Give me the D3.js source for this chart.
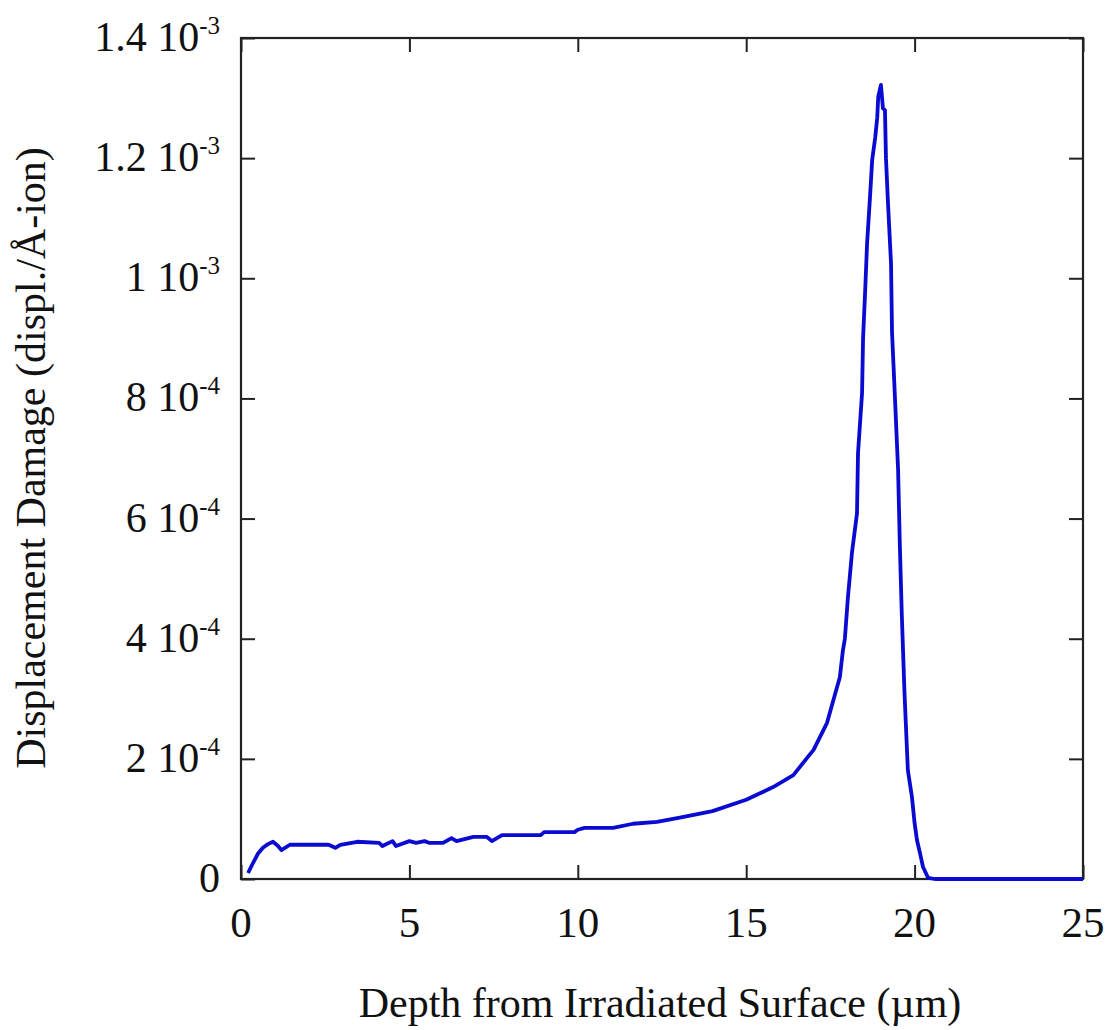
<!DOCTYPE html>
<html>
<head>
<meta charset="utf-8">
<script src="https://cdn.jsdelivr.net/npm/d3@7"></script>
<style>
  body { margin: 0; background: #fff; }
  svg text { font-family: "Liberation Serif", "Times New Roman", serif; fill: #111; }
</style>
</head>
<body>
<div id="chart"></div>
<script>
// depth in µm, damage in units of 1e-4 displ./Å-ion
const depth = [0.21,0.36,0.5,0.65,0.8,0.95,1.1,1.2,1.45,2.0,2.6,2.8,2.95,3.45,4.1,4.2,4.5,4.6,5.0,5.2,5.45,5.6,6.0,6.25,6.4,6.9,7.3,7.45,7.75,8.9,9.0,9.9,10.0,10.2,11.05,11.64,12.35,13.03,14.0,15.0,15.8,16.4,17.0,17.4,17.6,17.78,17.87,17.93,18.02,18.14,18.29,18.32,18.44,18.47,18.53,18.59,18.68,18.74,18.83,18.89,18.92,19.0,19.06,19.12,19.15,19.21,19.3,19.33,19.42,19.51,19.56,19.62,19.7,19.8,19.92,20.0,20.07,20.16,20.25,20.4,20.6,25]
const damage = [0.1,0.27,0.42,0.52,0.58,0.62,0.55,0.48,0.57,0.57,0.57,0.52,0.57,0.62,0.6,0.55,0.63,0.55,0.63,0.6,0.63,0.6,0.6,0.68,0.63,0.7,0.7,0.63,0.73,0.73,0.78,0.78,0.82,0.85,0.85,0.92,0.95,1.02,1.13,1.32,1.53,1.73,2.15,2.6,3.0,3.36,3.8,4.0,4.69,5.43,6.09,7.09,8.09,9.0,9.76,10.59,11.39,11.97,12.34,12.67,13.02,13.22,12.83,12.8,12.0,11.25,10.25,9.1,7.97,6.81,5.6,4.4,3.1,1.81,1.37,0.93,0.65,0.43,0.2,0.02,0,0]

const xTicks = [0, 5, 10, 15, 20, 25]
const yTicks = [0, 2, 4, 6, 8, 10, 12, 14]
const yTickMantissa = ["0", "2", "4", "6", "8", "1", "1.2", "1.4"]
const yTickExponent = ["", "-4", "-4", "-4", "-4", "-3", "-3", "-3"]

const xTitle = "Depth from Irradiated Surface (µm)"
const yTitle = "Displacement Damage (displ./Å-ion)"

const W = 1109, H = 1030
const margin = {top: 38, right: 26, bottom: 151, left: 241}
const width = W - margin.left - margin.right
const height = H - margin.top - margin.bottom

const svg = d3.select("#chart").append("svg")
    .attr("width", W)
    .attr("height", H)
const g = svg.append("g")
    .attr("transform", "translate(" + margin.left + "," + margin.top + ")")

const x = d3.scaleLinear().domain([0, 25]).range([0, width])
const y = d3.scaleLinear().domain([0, 14]).range([height, 0])

const tickLen = 14

// inward ticks on all four sides
g.append("g")
    .attr("transform", "translate(0," + height + ")")
    .call(d3.axisTop(x).tickValues(xTicks).tickSize(tickLen).tickFormat(""))
g.append("g")
    .call(d3.axisBottom(x).tickValues(xTicks).tickSize(tickLen).tickFormat(""))
g.append("g")
    .call(d3.axisRight(y).tickValues(yTicks).tickSize(tickLen).tickFormat(""))
g.append("g")
    .attr("transform", "translate(" + width + ",0)")
    .call(d3.axisLeft(y).tickValues(yTicks).tickSize(tickLen).tickFormat(""))
g.selectAll(".domain").remove()
g.selectAll(".tick line").attr("stroke", "#222").attr("stroke-width", 2)

g.append("rect")
    .attr("width", width)
    .attr("height", height)
    .attr("fill", "none")
    .attr("stroke", "#222")
    .attr("stroke-width", 2.2)

// x tick labels
g.selectAll(".xlab")
  .data(xTicks)
  .enter().append("text")
    .attr("x", d => x(d))
    .attr("y", height + 58)
    .attr("text-anchor", "middle")
    .attr("font-size", 43)
    .text(d => d)

// y tick labels with superscript exponent
const yl = g.selectAll(".ylab")
  .data(yTicks)
  .enter().append("text")
    .attr("x", -21)
    .attr("y", d => y(d) + 13)
    .attr("text-anchor", "end")
    .attr("font-size", 42)
yl.append("tspan").text((d, i) => yTickMantissa[i] + (yTickExponent[i] ? " 10" : ""))
yl.append("tspan")
    .attr("dy", -17)
    .attr("font-size", 25)
    .text((d, i) => yTickExponent[i])

g.append("path")
    .datum(depth.map((d, i) => [d, damage[i]]))
    .attr("fill", "none")
    .attr("stroke", "#0a0ad0")
    .attr("stroke-width", 3.8)
    .attr("stroke-linejoin", "round")
    .attr("d", d3.line()
      .x(d => x(d[0]))
      .y(d => y(d[1])))

svg.append("text")
    .attr("x", 660)
    .attr("y", 1017)
    .attr("text-anchor", "middle")
    .attr("font-size", 42)
    .text(xTitle)

svg.append("text")
    .attr("transform", "translate(45," + 458 + ") rotate(-90)")
    .attr("text-anchor", "middle")
    .attr("font-size", 42)
    .text(yTitle)
</script>
</body>
</html>
